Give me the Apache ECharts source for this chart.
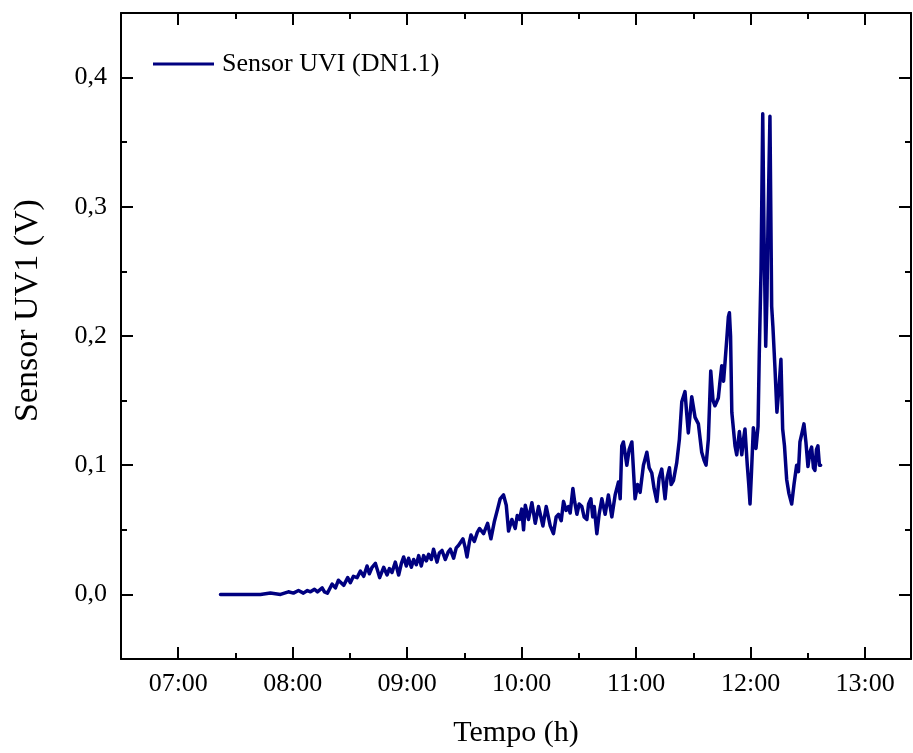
<!DOCTYPE html>
<html>
<head>
<meta charset="utf-8">
<script src="https://cdn.jsdelivr.net/npm/echarts@6/dist/echarts.min.js"></script>
<style>
html,body{margin:0;padding:0;background:#fff;}
#chart{width:913px;height:753px;}
</style>
</head>
<body>
<div id="chart"></div>
<script>
// Time in decimal hours
var times = [
7.369,7.544,7.718,7.805,7.893,7.962,8.006,8.050,8.093,8.128,8.155,8.190,8.216,8.257,8.277,8.303,
8.344,8.373,8.399,8.416,8.445,8.480,8.503,8.530,8.562,8.591,8.620,8.649,8.669,8.693,8.722,8.739,
8.759,8.794,8.824,8.844,8.867,8.896,8.925,8.949,8.969,8.992,9.012,9.036,9.056,9.079,9.100,9.123,
9.143,9.167,9.187,9.210,9.230,9.260,9.280,9.304,9.332,9.359,9.376,9.405,9.428,9.449,9.487,9.507,
9.522,9.542,9.557,9.586,9.612,9.632,9.667,9.702,9.731,9.760,9.789,9.812,9.841,9.865,9.885,9.914,
9.943,9.961,9.981,10.000,10.016,10.031,10.059,10.089,10.118,10.147,10.185,10.214,10.249,10.277,10.301,10.321,
10.345,10.365,10.388,10.408,10.423,10.447,10.462,10.482,10.502,10.525,10.545,10.569,10.584,10.604,10.620,10.633,
10.656,10.676,10.700,10.729,10.757,10.787,10.816,10.845,10.860,10.874,10.888,10.918,10.938,10.962,10.990,11.012,
11.034,11.063,11.093,11.113,11.136,11.156,11.180,11.200,11.223,11.252,11.269,11.290,11.305,11.325,11.354,11.377,
11.398,11.426,11.441,11.455,11.485,11.514,11.543,11.572,11.592,11.610,11.630,11.651,11.671,11.688,11.717,11.732,
11.747,11.763,11.776,11.793,11.805,11.814,11.824,11.835,11.849,11.863,11.878,11.901,11.922,11.937,11.950,11.970,
11.983,11.994,12.007,12.023,12.046,12.064,12.075,12.090,12.105,12.116,12.131,12.142,12.151,12.168,12.183,12.194,
12.212,12.229,12.247,12.264,12.279,12.295,12.314,12.334,12.358,12.378,12.401,12.417,12.430,12.448,12.465,12.482,
12.500,12.517,12.532,12.548,12.561,12.574,12.587,12.600,12.611
];
// Sensor UVI (DN1.1) output in volts
var sensorValues = [
0.000,0.000,0.000,0.001,0.000,0.002,0.001,0.003,0.001,0.003,0.002,0.004,0.002,0.005,0.002,0.001,
0.008,0.005,0.011,0.012,0.007,0.013,0.009,0.014,0.013,0.018,0.014,0.022,0.016,0.021,0.024,0.019,
0.013,0.021,0.015,0.020,0.017,0.025,0.015,0.024,0.029,0.022,0.028,0.021,0.027,0.023,0.030,0.022,
0.030,0.026,0.031,0.027,0.035,0.025,0.032,0.034,0.027,0.033,0.035,0.028,0.036,0.038,0.043,0.036,
0.029,0.040,0.046,0.041,0.048,0.051,0.047,0.055,0.043,0.056,0.066,0.074,0.077,0.069,0.049,0.058,
0.051,0.061,0.058,0.066,0.050,0.069,0.058,0.071,0.055,0.068,0.053,0.068,0.053,0.047,0.060,0.062,
0.057,0.072,0.065,0.068,0.063,0.082,0.072,0.062,0.070,0.068,0.060,0.058,0.070,0.074,0.060,0.068,
0.047,0.062,0.074,0.062,0.077,0.060,0.077,0.087,0.074,0.115,0.118,0.100,0.112,0.118,0.074,0.085,
0.079,0.100,0.110,0.098,0.094,0.082,0.072,0.090,0.097,0.074,0.090,0.098,0.085,0.088,0.102,0.120,
0.149,0.157,0.140,0.125,0.153,0.137,0.132,0.110,0.104,0.100,0.120,0.173,0.150,0.146,0.152,0.165,
0.177,0.165,0.180,0.200,0.215,0.218,0.200,0.141,0.128,0.115,0.108,0.126,0.108,0.120,0.128,0.100,
0.085,0.070,0.095,0.129,0.113,0.130,0.187,0.250,0.372,0.280,0.192,0.230,0.288,0.370,0.223,0.207,
0.175,0.141,0.160,0.182,0.128,0.115,0.089,0.078,0.070,0.085,0.100,0.095,0.118,0.125,0.132,0.118,
0.099,0.110,0.114,0.098,0.096,0.112,0.115,0.100,0.100
];
var xMajorTicks = [7, 8, 9, 10, 11, 12, 13];
var xMinorTicks = [7.5, 8.5, 9.5, 10.5, 11.5, 12.5];
var yMajorTicks = [0, 0.1, 0.2, 0.3, 0.4];
var yMinorTicks = [0.05, 0.15, 0.25, 0.35];
var seriesName = 'Sensor UVI (DN1.1)';
var xTitle = 'Tempo (h)';
var yTitle = 'Sensor UV1 (V)';

var FONT = '"Liberation Serif", "Times New Roman", serif';
var AXC = '#000';
var LINE_COLOR = '#000080';
var X_MIN = 6.5, X_MAX = 13.4, Y_MIN = -0.05, Y_MAX = 0.45;

function fmtTime(v) {
  var h = Math.round(v);
  return (h < 10 ? '0' : '') + h + ':00';
}
function fmtVal(v) {
  return v.toFixed(1).replace('.', ',');
}

function xAx(pos, major, showLabel, showLine) {
  return {
    type: 'value', position: pos, min: X_MIN, max: X_MAX, gridIndex: 0,
    splitLine: {show: false},
    axisLine: {show: showLine, onZero: false, lineStyle: {color: AXC, width: 2}},
    axisTick: {show: true, inside: true, length: major ? 12 : 6,
      customValues: major ? xMajorTicks : xMinorTicks,
      lineStyle: {color: AXC, width: 2}},
    axisLabel: {show: showLabel, customValues: xMajorTicks, formatter: fmtTime,
      color: '#000', fontFamily: FONT, fontSize: 26, margin: 12}
  };
}
function yAx(pos, major, showLabel, showLine) {
  return {
    type: 'value', position: pos, min: Y_MIN, max: Y_MAX, gridIndex: 0,
    splitLine: {show: false},
    axisLine: {show: showLine, onZero: false, lineStyle: {color: AXC, width: 2}},
    axisTick: {show: true, inside: true, length: major ? 12 : 6,
      customValues: major ? yMajorTicks : yMinorTicks,
      lineStyle: {color: AXC, width: 2}},
    axisLabel: {show: showLabel, customValues: yMajorTicks, formatter: fmtVal,
      color: '#000', fontFamily: FONT, fontSize: 26, margin: 14}
  };
}

var xb = xAx('bottom', true, true, true);
xb.name = xTitle;
xb.nameLocation = 'middle';
xb.nameGap = 59;
xb.nameTextStyle = {color: '#000', fontFamily: FONT, fontSize: 30};

var yl = yAx('left', true, true, true);
yl.name = yTitle;
yl.nameLocation = 'middle';
yl.nameGap = 76;
yl.nameTextStyle = {color: '#000', fontFamily: FONT, fontSize: 34, padding: [0, 0, 0, 51]};

var data = times.map(function (t, i) { return [t, sensorValues[i]]; });

var chart = echarts.init(document.getElementById('chart'), null, {renderer: 'canvas'});
chart.setOption({
  animation: false,
  backgroundColor: '#fff',
  grid: {left: 121, right: 2, top: 13, bottom: 92, containLabel: false},
  xAxis: [
    xb,
    xAx('bottom', false, false, false),
    xAx('top', true, false, true),
    xAx('top', false, false, false)
  ],
  yAxis: [
    yl,
    yAx('left', false, false, false),
    yAx('right', true, false, true),
    yAx('right', false, false, false)
  ],
  legend: {
    show: true, left: 153, top: 51, orient: 'vertical', padding: 0,
    icon: 'rect', itemWidth: 61, itemHeight: 3,
    itemStyle: {color: LINE_COLOR},
    data: [seriesName],
    textStyle: {color: '#000', fontFamily: FONT, fontSize: 26, padding: [0, 0, 0, 3]}
  },
  series: [{
    name: seriesName, type: 'line', xAxisIndex: 0, yAxisIndex: 0,
    data: data, showSymbol: false, symbol: 'none',
    lineStyle: {color: LINE_COLOR, width: 3.5, join: 'round', cap: 'round'},
    itemStyle: {color: LINE_COLOR},
    emphasis: {disabled: true}
  }]
});
</script>
</body>
</html>
